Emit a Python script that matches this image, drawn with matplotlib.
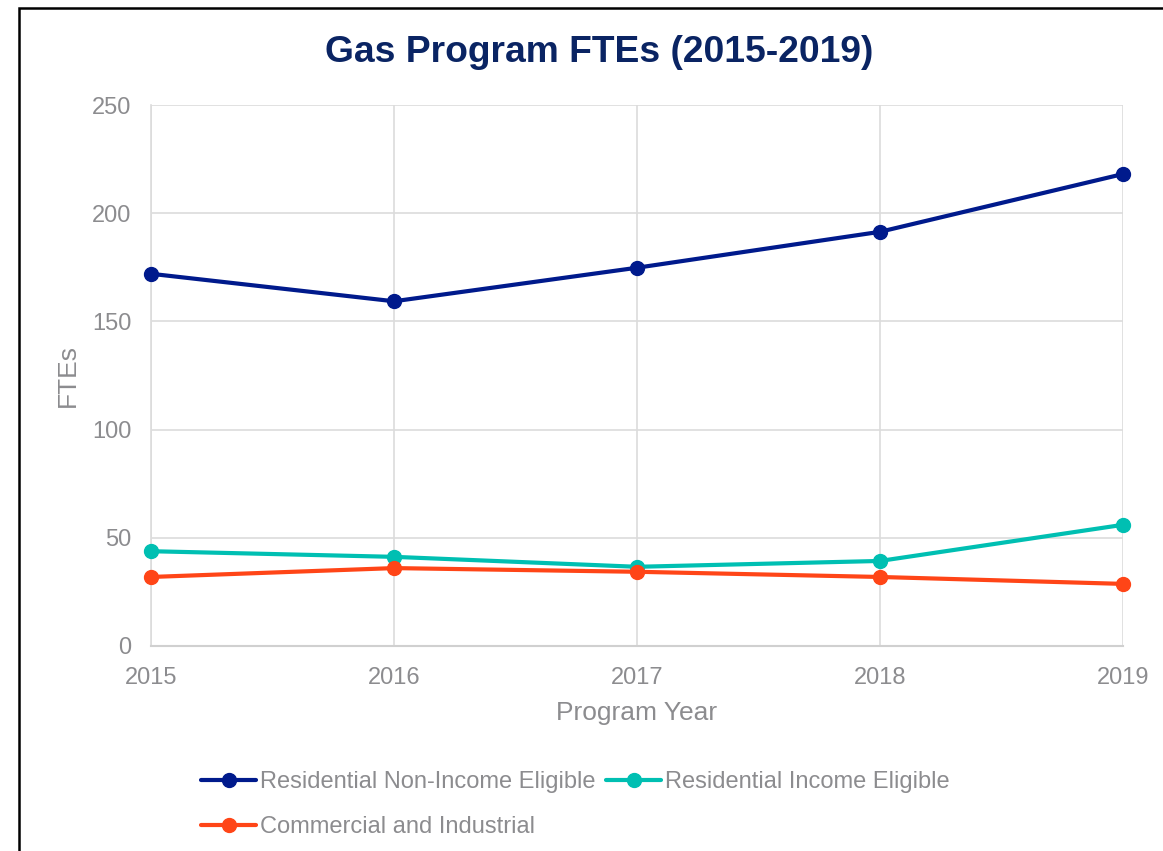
import matplotlib
matplotlib.use("Agg")
import matplotlib.pyplot as plt
from matplotlib.patches import Rectangle

years = [2015, 2016, 2017, 2018, 2019]
res_non_income = [172, 159.3, 174.8, 191.4, 218.1]
res_income = [43.8, 41.2, 36.6, 39.3, 56.0]
commercial = [31.9, 36.0, 34.3, 31.9, 28.7]
series_names = ["Residential Non-Income Eligible", "Residential Income Eligible",
                "Commercial and Industrial"]
colors = ["#001A8C", "#00BFB2", "#FF4517"]

plt.rcParams['font.family'] = ['Liberation Sans', 'DejaVu Sans']
gray = "#8C8C8F"

fig = plt.figure(figsize=(11.63, 8.51), dpi=100)
W, H = 1163, 851
ax = fig.add_axes([151 / W, (851 - 646) / H, (1123 - 151) / W, (646 - 105) / H])

lines = []
for vals, c, n in zip([res_non_income, res_income, commercial], colors, series_names):
    l, = ax.plot(years, vals, color=c, lw=3, marker='o', markersize=10, label=n,
                 solid_capstyle='round', zorder=3, clip_on=False)
    lines.append(l)

ax.set_xlim(2015, 2019)
ax.set_ylim(0, 250)
ax.set_xticks(years)
ax.set_yticks([0, 50, 100, 150, 200, 250])
ax.grid(True, color="#DCDCDC", lw=1.2)
for s in ["top", "right"]:
    ax.spines[s].set_visible(False)
ax.spines["left"].set_color("#DCDCDC")
ax.spines["left"].set_linewidth(1.2)
ax.spines["bottom"].set_color("#D0D0D0")
ax.spines["bottom"].set_linewidth(1.5)
ax.tick_params(length=0, labelsize=17, labelcolor=gray)
ax.tick_params(axis='x', pad=15)
ax.tick_params(axis='y', pad=14)
ax.set_xlabel("Program Year", fontsize=19, color=gray, labelpad=9)
ax.set_ylabel("FTEs", fontsize=19, color=gray, labelpad=9)

fig.text(599 / W, 1 - 53 / H, "Gas Program FTEs (2015-2019)", fontsize=26.8, fontweight='bold',
         color="#0A2463", ha='center', va='center')

leg = fig.legend([lines[0], lines[2], lines[1]],
                 [series_names[0], series_names[2], series_names[1]],
                 ncol=2, loc='upper left', bbox_to_anchor=(201 / W, 1 - 771 / H),
                 frameon=False, fontsize=17, handlelength=2.33, handletextpad=0.17,
                 columnspacing=0.45, labelspacing=0.98, borderaxespad=0, borderpad=0)
for t in leg.get_texts():
    t.set_color(gray)

fig.patches.append(Rectangle((18.5 / W, -0.1), 2.0, 1.1 - 8.5 / H, transform=fig.transFigure,
                             fill=False, edgecolor='black', lw=1.8))

fig.savefig("out.png", dpi=100)
